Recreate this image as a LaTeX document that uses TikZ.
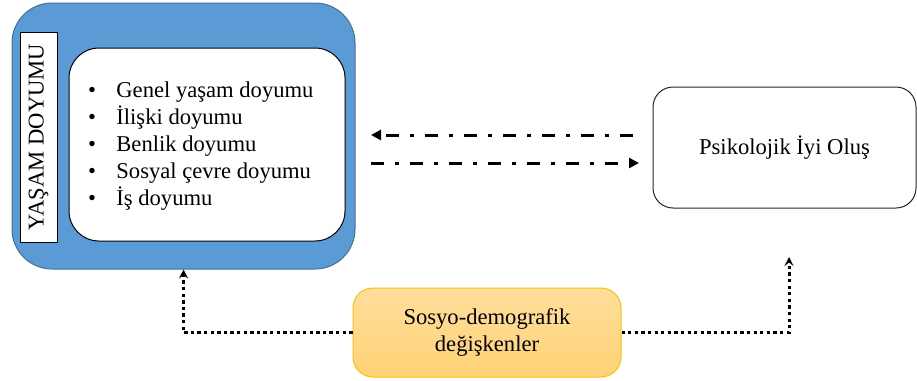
\documentclass[tikz,border=0pt]{standalone}
\usepackage{fontspec}
\setmainfont{Liberation Serif}
\usetikzlibrary{arrows.meta,positioning,calc}
\definecolor{lsblue}{HTML}{5B9BD5}
\definecolor{lsblueb}{HTML}{41719C}
\definecolor{ytop}{RGB}{255,222,156}
\definecolor{ybot}{RGB}{255,210,118}
\definecolor{yborder}{HTML}{FFC000}
\tikzset{
  txt/.style={font=\fontsize{22.6}{27}\selectfont, inner sep=0pt},
  outerbox/.style={draw=lsblueb, line width=1pt, fill=lsblue, rounded corners=40pt},
  innerbox/.style={draw=black, line width=1pt, fill=white, rounded corners=30pt},
  labelbox/.style={draw=black, line width=0.9pt, fill=white, txt},
  psybox/.style={draw=black!85, line width=1pt, fill=white, rounded corners=20pt, txt},
  sosbox/.style={draw=yborder, line width=1pt, top color=ytop, bottom color=ybot, rounded corners=20pt, txt, align=center},
  dashdotarrow/.style={line width=3pt, dash pattern=on 13pt off 11pt on 4pt off 11pt, -{Triangle[length=10pt,width=10pt]}},
  dotarrow/.style={line width=3pt, dash pattern=on 3.3pt off 3.3pt, -{Stealth[length=9pt,width=9pt,inset=3.5pt]}},
}
\begin{document}
\begin{tikzpicture}[x=1pt,y=-1pt]
\useasboundingbox (0,0) rectangle (917,380);
% left composite
\node[outerbox, minimum width=343pt, minimum height=266pt] (blue) at (183.5,136) {};
\node[labelbox, rotate=90, minimum width=210pt, minimum height=37pt] (label) at (38.5,137) {YAŞAM DOYUMU};
\node[innerbox, minimum width=276pt, minimum height=193pt] (inner) at (207,144.5) {};
\node[txt, anchor=base west] (items) at (88,97) {\begin{tabular}[t]{@{}l@{\hspace{20.3pt}}l@{}}
•&Genel yaşam doyumu\\
•&İlişki doyumu\\
•&Benlik doyumu\\
•&Sosyal çevre doyumu\\
•&İş doyumu
\end{tabular}};
% right box
\node[psybox, minimum width=263pt, minimum height=121pt] (psy) at (784.5,147.5) {Psikolojik İyi Oluş};
% bottom box
\node[sosbox, minimum width=268pt, minimum height=89pt] (sos) at (487,332.5) {Sosyo-demografik\\değişkenler};
% dash-dot arrows
\coordinate (a1s) at (633,135);
\coordinate (a1e) at (371,135);
\coordinate (a2s) at (371,163);
\coordinate (a2e) at (639,163);
\draw[dashdotarrow] (a1s) -- (a1e);
\draw[dashdotarrow] (a2s) -- (a2e);
% dotted arrows
\coordinate (pend) at (789,257);
\draw[dotarrow] (sos.west) -| (blue.south);
\draw[dotarrow] (sos.east) -| (pend);
\end{tikzpicture}
\end{document}
